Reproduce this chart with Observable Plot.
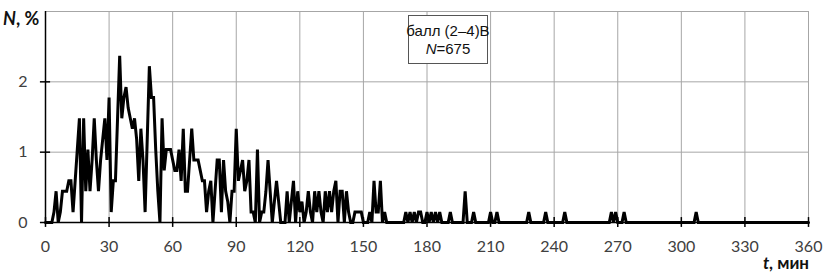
<!DOCTYPE html>
<html>
<head>
<meta charset="utf-8">
<script src="https://cdn.jsdelivr.net/npm/d3@7"></script>
<script src="https://cdn.jsdelivr.net/npm/@observablehq/plot@0.6"></script>
<style>
  html, body { margin: 0; padding: 0; background: #fff; }
  #chart { position: relative; width: 829px; height: 274px; }
  svg { font-family: Lato, "Open Sans", sans-serif; }
</style>
</head>
<body>
<div id="chart"></div>
<script>
// Number of events per minute (index = minute 0..360)
const counts = [
  0,0,0,0,1,3,0,1,3,3,      // 0-9
  3,4,4,1,4,7,10,0,10,3,    // 10-19
  7,3,6,10,6,3,6,8,10,6,    // 20-29
  12,1,4,4,10,16,10,12,13,11, // 30-39
  10,9,10,8,4,9,6,1,8,15,   // 40-49
  12,12,7,3,0,10,5,7,7,7,   // 50-59
  6,5,5,7,4,9,3,3,6,9,      // 60-69
  6,6,6,5,4,4,1,3,4,0,      // 70-79
  3,6,6,1,6,3,2,0,3,3,      // 80-89
  9,4,5,6,3,4,6,1,1,0,      // 90-99
  7,0,1,1,3,6,3,0,2,4,      // 100-109
  2,0,0,0,3,0,2,4,0,3,      // 110-119
  1,2,0,1,3,1,0,3,1,3,      // 120-129
  1,0,3,1,3,1,3,4,0,3,      // 130-139
  3,0,3,1,0,0,1,1,1,1,      // 140-149
  0,0,0,1,0,4,1,1,4,0,      // 150-159
  1,0,0,0,0,0,0,0,0,0,      // 160-169
  1,0,1,0,1,0,1,1,0,0,      // 170-179
  1,0,1,0,1,0,1,0,0,0,      // 180-189
  0,1,0,0,0,0,0,0,3,0,      // 190-199
  0,0,1,0,0,0,0,0,0,0,      // 200-209
  1,0,0,1,0,0,0,0,0,0,      // 210-219
  0,0,0,0,0,0,0,0,1,0,      // 220-229
  0,0,0,0,0,0,1,0,0,0,      // 230-239
  0,0,0,0,0,1,0,0,0,0,      // 240-249
  0,0,0,0,0,0,0,0,0,0,      // 250-259
  0,0,0,0,0,0,0,1,0,1,      // 260-269
  0,0,0,1,0,0,0,0,0,0,      // 270-279
  0,0,0,0,0,0,0,0,0,0,      // 280-289
  0,0,0,0,0,0,0,0,0,0,      // 290-299
  0,0,0,0,0,0,0,1,0,0,      // 300-309
  0,0,0,0,0,0,0,0,0,0,      // 310-319
  0,0,0,0,0,0,0,0,0,0,      // 320-329
  0,0,0,0,0,0,0,0,0,0,      // 330-339
  0,0,0,0,0,0,0,0,0,0,      // 340-349
  0,0,0,0,0,0,0,0,0,0,      // 350-359
  0                         // 360
];
const totalN = 675;
const xTicks = [0, 30, 60, 90, 120, 150, 180, 210, 240, 270, 300, 330, 360];
const yTicks = [0, 1, 2];
const yGrid = [1, 2, 3];
const legendLine1 = "балл (2–4)В";
const legendN = "675";

const data = counts.map((c, i) => ({t: i, v: c / totalN * 100}));

const plot = Plot.plot({
  width: 829,
  height: 274,
  marginLeft: 45,
  marginRight: 21,
  marginTop: 11,
  marginBottom: 52,
  x: {domain: [0, 360], axis: null},
  y: {domain: [0, 3], axis: null},
  marks: [
    Plot.ruleX(xTicks, {stroke: "#a6a6a6", strokeWidth: 1}),
    Plot.ruleY(yGrid, {stroke: "#a6a6a6", strokeWidth: 1}),
    Plot.lineY(data, {x: "t", y: "v", stroke: "black", strokeWidth: 3, strokeLinejoin: "miter", strokeMiterlimit: 4}),
    Plot.ruleY([0], {stroke: "black", strokeWidth: 1.5}),
    Plot.ruleX([0], {stroke: "black", strokeWidth: 1.5}),
    Plot.ruleX(xTicks, {y1: -0.07, y2: 0.07, stroke: "black", strokeWidth: 1.5}),
    Plot.ruleY(yTicks, {x1: -2.4, x2: 2.4, stroke: "black", strokeWidth: 1.5}),
    Plot.axisX(xTicks, {tickSize: 0, tickPadding: 18, fontSize: 16, color: "#404040", tickFormat: d => d, label: null}),
    Plot.axisY(yTicks, {tickSize: 0, tickPadding: 18, fontSize: 16, color: "#404040", tickFormat: d => d, label: null})
  ]
});

document.getElementById("chart").appendChild(plot);

const svg = d3.select(plot);
// y axis title
const yt = svg.append("text").attr("x", 3).attr("y", 25).attr("text-anchor", "start")
  .attr("font-size", 18).attr("font-weight", "bold").attr("fill", "#111")
  .attr("font-family", "Lato, 'Open Sans', sans-serif");
yt.append("tspan").attr("font-style", "italic").text("N");
yt.append("tspan").text(", %");
// x axis title
const xt = svg.append("text").attr("x", 809).attr("y", 269).attr("text-anchor", "end")
  .attr("font-size", 17).attr("font-weight", "bold").attr("fill", "#111")
  .attr("font-family", "Lato, 'Open Sans', sans-serif");
xt.append("tspan").attr("font-style", "italic").text("t");
xt.append("tspan").text(", мин");
// legend box
svg.append("rect").attr("x", 408.5).attr("y", 15.5).attr("width", 79).attr("height", 48)
  .attr("fill", "white").attr("stroke", "#555").attr("stroke-width", 1);
svg.append("text").attr("x", 448).attr("y", 36).attr("text-anchor", "middle")
  .attr("font-size", 15).attr("fill", "#111").attr("font-family", "'Liberation Sans', Arial, sans-serif")
  .text(legendLine1);
const ln = svg.append("text").attr("x", 448).attr("y", 54).attr("text-anchor", "middle")
  .attr("font-size", 15).attr("fill", "#111").attr("font-family", "'Liberation Sans', Arial, sans-serif");
ln.append("tspan").attr("font-style", "italic").text("N");
ln.append("tspan").text("=" + legendN);
</script>
</body>
</html>
